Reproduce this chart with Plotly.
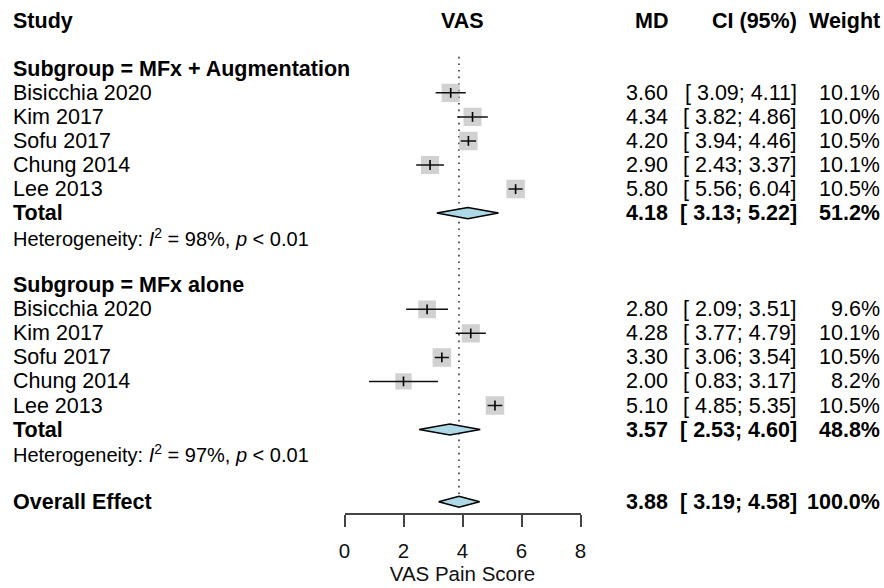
import plotly.graph_objects as go

# ---------------- data ----------------
studies = ["Bisicchia 2020", "Kim 2017", "Sofu 2017", "Chung 2014", "Lee 2013"]

g1_name = "Subgroup = MFx + Augmentation"
g1_md = [3.60, 4.34, 4.20, 2.90, 5.80]
g1_lo = [3.09, 3.82, 3.94, 2.43, 5.56]
g1_hi = [4.11, 4.86, 4.46, 3.37, 6.04]
g1_w = [10.1, 10.0, 10.5, 10.1, 10.5]
g1_total = (4.18, 3.13, 5.22, 51.2)
g1_het = "Heterogeneity: <i>I</i><sup>2</sup> = 98%, <i>p</i> &lt; 0.01"

g2_name = "Subgroup = MFx alone"
g2_md = [2.80, 4.28, 3.30, 2.00, 5.10]
g2_lo = [2.09, 3.77, 3.06, 0.83, 4.85]
g2_hi = [3.51, 4.79, 3.54, 3.17, 5.35]
g2_w = [9.6, 10.1, 10.5, 8.2, 10.5]
g2_total = (3.57, 2.53, 4.60, 48.8)
g2_het = "Heterogeneity: <i>I</i><sup>2</sup> = 97%, <i>p</i> &lt; 0.01"

overall = (3.88, 3.19, 4.58, 100.0)

x_ticks = [0, 2, 4, 6, 8]
x_title = "VAS Pain Score"
headers = ["Study", "VAS", "MD", "CI (95%)", "Weight"]

# ---------------- layout constants ----------------
W, H = 884, 588
FONT = "Liberation Sans, Arial, Helvetica, sans-serif"
FS = 21.5
FS_HET = 20
FS_AX = 20.5
ax_left_px, ax_right_px = 344.5, 580.5
row0_px, row_h = 20.7, 24.05
axis_px = 513
col_study = 12
col_md = 669
col_ci = 798
col_w = 881

def px_x(p):
    return p / W

y_top = (0 - row0_px) / row_h
y_bot = (axis_px - row0_px) / row_h

fig = go.Figure()
ann = []

def txt(xp, row, s, anchor, bold=False, size=FS):
    ann.append(dict(x=px_x(xp), xref="paper", y=row, yref="y", text=(f"<b>{s}</b>" if bold else s),
                    showarrow=False, xanchor=anchor, yanchor="middle",
                    font=dict(family=FONT, size=size, color="#000"), borderpad=0))

# headers
txt(col_study, 0, headers[0], "left", True)
ann.append(dict(x=4, xref="x", y=0, yref="y", text=f"<b>{headers[1]}</b>", showarrow=False,
                xanchor="center", yanchor="middle", font=dict(family=FONT, size=FS, color="#000"),
                borderpad=0))
txt(col_md, 0, headers[2], "right", True)
txt(col_ci, 0, headers[3], "right", True)
txt(col_w, 0, headers[4], "right", True)

sq_x, sq_y, sq_s = [], [], []
ci_x, ci_y = [], []

def add_diamond(t, r):
    m, lo, hi = t[0], t[1], t[2]
    hh = 0.23
    fig.add_trace(go.Scatter(x=[lo, m, hi, m, lo], y=[r, r - hh, r, r + hh, r], mode="lines",
                             fill="toself", fillcolor="#ADD8E6",
                             line=dict(color="#000", width=1.5), hoverinfo="skip", showlegend=False))

def add_group(start, name, md, lo, hi, w, total, het):
    txt(col_study, start, name, "left", True)
    for i, s in enumerate(studies):
        r = start + 1 + i
        txt(col_study, r, s, "left")
        txt(col_md, r, f"{md[i]:.2f}", "right")
        txt(col_ci, r, f"[ {lo[i]:.2f}; {hi[i]:.2f}]", "right")
        txt(col_w, r, f"{w[i]:.1f}%", "right")
        sq_x.append(md[i]); sq_y.append(r); sq_s.append(18.5 * (w[i] / 10.5) ** 0.5)
        ci_x.extend([lo[i], hi[i], None]); ci_y.extend([r, r, None])
    rt = start + 6
    txt(col_study, rt, "Total", "left", True)
    txt(col_md, rt, f"{total[0]:.2f}", "right", True)
    txt(col_ci, rt, f"[ {total[1]:.2f}; {total[2]:.2f}]", "right", True)
    txt(col_w, rt, f"{total[3]:.1f}%", "right", True)
    add_diamond(total, rt)
    txt(col_study, rt + 1, het, "left", size=FS_HET)

# reference line
fig.add_trace(go.Scatter(x=[overall[0], overall[0]], y=[1.5, 20.15], mode="lines",
                         line=dict(color="#333", width=1.6, dash="1.6px,5px"),
                         hoverinfo="skip", showlegend=False))

add_group(2, g1_name, g1_md, g1_lo, g1_hi, g1_w, g1_total, g1_het)
add_group(11, g2_name, g2_md, g2_lo, g2_hi, g2_w, g2_total, g2_het)

# overall
txt(col_study, 20, "Overall Effect", "left", True)
txt(col_md, 20, f"{overall[0]:.2f}", "right", True)
txt(col_ci, 20, f"[ {overall[1]:.2f}; {overall[2]:.2f}]", "right", True)
txt(col_w, 20, f"{overall[3]:.1f}%", "right", True)
add_diamond(overall, 20)

# squares
fig.add_trace(go.Scatter(x=sq_x, y=sq_y, mode="markers",
                         marker=dict(symbol="square", size=sq_s, color="#BDBDBD",
                                     line=dict(width=0)),
                         hoverinfo="skip", showlegend=False))
# CI lines
fig.add_trace(go.Scatter(x=ci_x, y=ci_y, mode="lines", line=dict(color="#111", width=1.5),
                         hoverinfo="skip", showlegend=False))
# point estimate ticks
fig.add_trace(go.Scatter(x=sq_x, y=sq_y, mode="markers",
                         marker=dict(symbol="line-ns", size=7, line=dict(color="#000", width=1.6)),
                         hoverinfo="skip", showlegend=False))

fig.update_layout(
    width=W, height=H, margin=dict(l=0, r=0, t=0, b=0),
    paper_bgcolor="white", plot_bgcolor="white",
    annotations=ann, showlegend=False,
    font=dict(family=FONT, size=FS, color="#000"),
    xaxis=dict(domain=[ax_left_px / W, ax_right_px / W], range=[0, 8], tickvals=x_ticks,
               showgrid=False, zeroline=False, showline=True, linecolor="#444", linewidth=1.5,
               ticks="outside", ticklen=12, tickwidth=1.5, tickcolor="#444",
               tickfont=dict(family=FONT, size=FS_AX, color="#111"), ticklabelstandoff=7,
               title=dict(text=x_title, font=dict(family=FONT, size=FS_AX, color="#111"), standoff=5),
               automargin=False, fixedrange=True),
    yaxis=dict(domain=[(H - axis_px) / H, 1], range=[y_bot, y_top], visible=False,
               automargin=False, fixedrange=True),
)

fig.write_html("out.html")
